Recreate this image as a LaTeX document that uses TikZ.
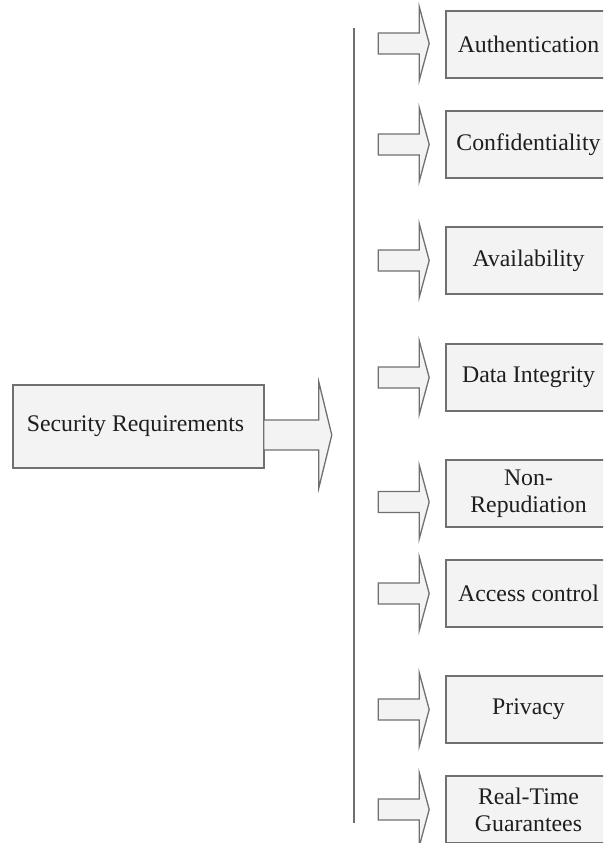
\documentclass[tikz,border=0pt]{standalone}
\usepackage{fontspec}
\setmainfont{Liberation Serif}
\definecolor{boxfill}{HTML}{F3F3F3}
\definecolor{boxline}{HTML}{707070}
\definecolor{txt}{HTML}{1E1E1E}
\newcommand{\secarrow}[2]{%
  \draw[arr] ([xshift=-16pt,yshift=#2]#1.west) -- ++(-10,-37) -- ++(0,26.5) -- ++(-41,0) -- ++(0,21) -- ++(41,0) -- ++(0,26.5) -- cycle;}
\begin{document}
\begin{tikzpicture}[x=1pt,y=-1pt,
  box/.style={draw=boxline,line width=1.6pt,fill=boxfill,text=txt,align=center,
    font=\fontsize{23.8}{27}\selectfont,inner sep=0pt},
  sbox/.style={box,minimum width=165pt,minimum height=67pt},
  arr/.style={draw=boxline,line width=1.3pt,fill=boxfill,line join=miter}]
\useasboundingbox (0,0) rectangle (603,843);
\clip (0,0) rectangle (603,843);
\node[box,minimum width=251pt,minimum height=83pt] (main) at (138.5,426.5) {\hspace*{-6pt}Security Requirements};
\draw[arr] ([yshift=-8.5pt]main.east) ++(-1,-15) -- ++(55,0) -- ++(0,-38) -- ++(13,53) -- ++(-13,53) -- ++(0,-38) -- ++(-55,0) -- cycle;
\coordinate (vtop) at (354,28);
\coordinate (vbot) at (354,823);
\draw[boxline,line width=1.6pt] (vtop) -- (vbot);
\node[sbox] (auth) at (528.5,44.5) {Authentication};
\node[sbox] (conf) at (528.5,144.5) {Confidentiality};
\node[sbox] (avail) at (528.5,260.5) {Availability};
\node[sbox] (integ) at (528.5,377.5) {Data Integrity};
\node[sbox] (nonrep) at (528.5,493.5) {Non-\\Repudiation};
\node[sbox] (access) at (528.5,593.5) {Access control};
\node[sbox] (priv) at (528.5,709.5) {Privacy};
\node[sbox] (rt) at (528.5,809.5) {Real-Time\\Guarantees};
\secarrow{auth}{1pt}
\secarrow{conf}{0pt}
\secarrow{avail}{0pt}
\secarrow{integ}{0pt}
\secarrow{nonrep}{-8.5pt}
\secarrow{access}{0pt}
\secarrow{priv}{0pt}
\secarrow{rt}{0pt}
\end{tikzpicture}
\end{document}
